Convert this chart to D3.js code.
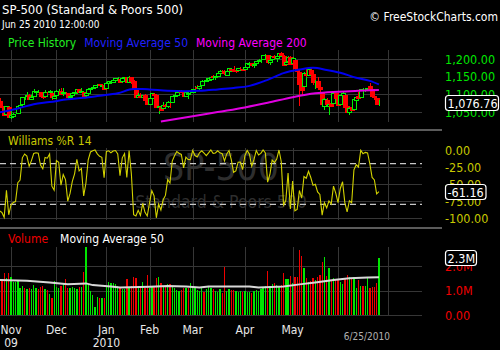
<!DOCTYPE html>
<html><head><meta charset="utf-8">
<script src="https://cdn.jsdelivr.net/npm/d3@7"></script>
<style>html,body{margin:0;padding:0;background:#000;overflow:hidden}svg{display:block;font-stretch:condensed}</style>
</head><body>
<svg id="c" width="500" height="350"></svg>
<script>
// ---------- DATA ----------
const monthDays = [
  ["2009-10", [26,27,28,29,30]],
  ["2009-11", [2,3,4,5,6,9,10,11,12,13,16,17,18,19,20,23,24,25,27,30]],
  ["2009-12", [1,2,3,4,7,8,9,10,11,14,15,16,17,18,21,22,23,24,28,29,30,31]],
  ["2010-01", [4,5,6,7,8,11,12,13,14,15,19,20,21,22,25,26,27,28,29]],
  ["2010-02", [1,2,3,4,5,8,9,10,11,12,16,17,18,19,22,23,24,25,26]],
  ["2010-03", [1,2,3,4,5,8,9,10,11,12,15,16,17,18,19,22,23,24,25,26,29,30,31]],
  ["2010-04", [1,5,6,7,8,9,12,13,14,15,16,19,20,21,22,23,26,27,28,29,30]],
  ["2010-05", [3,4,5,6,7,10,11,12,13,14,17,18,19,20,21,24,25,26,27,28]],
  ["2010-06", [1,2,3,4,7,8,9,10,11,14,15,16,17,18,21,22,23,24,25,28,29,30]],
  ["2010-07", [1]]
];

const open = [
 1080,1067,1061.5,1043,1065,
 1036,1040,1047,1047,1064,1072,1092,1094,1098,1088,1094,1108,1109,1106,1094,1095,1106,1106,1105,1091,
 1098,1109,1110,1103,1105,1103,1092,1098,1103,1107,1114,1108,1107,1097,1104,1115,1118,1121,1127,1128,1125,1127,
 1116.6,1133,1136,1136,1140,1145.9,1144,1137,1145,1148,1136,1147.7,1138.7,1115.5,1092,1095.8,1091.9,1096.9,1087.6,
 1073.9,1090,1100.7,1097.3,1064,1065.5,1060,1069.7,1067.1,1075.9,1079.1,1096,1099,1105.5,1110,1107.5,1095.9,1101.2,1103.1,
 1105.4,1117,1119.4,1119.1,1125.1,1138.4,1137.6,1140.2,1143.9,1151.7,1148.5,1150.8,1160,1166.1,1166.7,1155.3,1166.5,1172.7,1170,1167.6,1167.7,1173.8,1171.8,
 1171.2,1178.7,1186,1188.2,1181.8,1187.5,1194.9,1195.9,1198.7,1210.8,1210.2,1192.1,1199,1207.2,1202.5,1207.9,1217.1,1209.9,1184.6,1193.3,1206.8,
 1188.6,1197.5,1169.2,1164.4,1127,1122.3,1156.4,1155.4,1170,1157.2,1136.5,1138.8,1119.6,1107.3,1067.3,1084.8,1067.4,1075.5,1074.3,1102.6,
 1087.3,1073,1098.8,1098.4,1065.8,1050.8,1062.8,1058.8,1082.7,1095,1091.2,1114,1115.9,1116.2,1122.8,1113.9,1095.6,1090.9,1075.1
];
const high = [
 1091,1072.5,1063,1066.8,1066,
 1052,1046,1061,1066.7,1071.5,1093.2,1097,1105.4,1101.5,1097,1113.7,1110.3,1111,1106,1094,1112.4,1108,1111,1105,1097,
 1112,1115,1118,1119,1108,1103,1096,1108,1109,1114.5,1114,1117,1107,1103,1117,1119,1121,1126.5,1130.4,1130.4,1126.4,1127.5,
 1133.9,1137,1139,1142.5,1145.4,1149.7,1144,1148,1150.4,1148.3,1150.5,1147.7,1141.6,1115.5,1102.6,1103.7,1099.5,1100.2,1096.5,
 1089.4,1104.7,1102.7,1097.3,1067.6,1071.2,1079.3,1073.7,1080,1077.8,1095,1101,1108.2,1112.4,1112.3,1108.6,1107,1103.5,1107.2,
 1116.1,1123.5,1125.6,1123.7,1139.4,1141.1,1145.4,1148.3,1150.2,1153.4,1150.9,1160.3,1169.2,1167.8,1169.2,1167.8,1174.7,1173,1180.7,1173.9,1174.9,1177.8,1174.6,
 1181.4,1187.7,1191.8,1189.6,1188.6,1194.7,1199.2,1199,1210.7,1213.9,1210.2,1197.9,1208.6,1210.9,1210.3,1217.3,1219.8,1211.4,1195,1209.4,1207.9,
 1205.1,1197.5,1175.9,1167.6,1135.1,1163.8,1170.5,1172.9,1173.6,1157.2,1141.9,1148.7,1124.3,1107.3,1090.2,1089.9,1074.8,1090.8,1103.5,1102.6,
 1094.8,1098.6,1105.7,1098.4,1071.4,1063.2,1077.7,1087.9,1092.4,1105.9,1115.6,1118.7,1117.7,1121,1131.2,1118.5,1099.6,1090.9,1083.6
];
const low = [
 1065,1060,1042,1043,1033,
 1029,1033,1045,1047,1059,1072,1085,1094,1085,1085,1094,1102,1102.7,1089,1086,1095,1098,1104.8,1083,1086,
 1098,1105,1099,1096,1100,1088,1085,1098,1101,1107,1105,1107,1094,1093,1104,1114,1117,1121,1124,1126,1121,1114.8,
 1116.6,1130,1134,1131,1136,1142,1131,1133,1143,1131,1135,1129,1114.8,1090,1092,1089.9,1083,1078.5,1071.6,
 1073.9,1087.9,1093.6,1062.8,1044.5,1056.5,1060,1062.9,1060,1062.3,1079.1,1094.7,1097.5,1100.8,1105.4,1092.2,1095.9,1086,1097.6,
 1105.4,1116.5,1116.6,1111,1125.1,1136.8,1134.9,1140.1,1138.9,1146.9,1141.5,1148.3,1159.9,1161.2,1155.3,1152.9,1161.7,1166,1165,1161.5,1167.7,1168,1168.5,
 1170.7,1178.7,1182.8,1177.3,1175.1,1187.2,1194.7,1188.8,1198.7,1208.5,1186.8,1183.7,1199,1198.9,1190.2,1205.1,1211.1,1181.6,1182.8,1193.3,1186.3,
 1188.6,1168.1,1158.2,1065.8,1094.2,1122.3,1147.7,1155.4,1156.1,1126.1,1114.6,1117.2,1100.7,1071.6,1055.9,1073.6,1040.8,1065.6,1074.3,1084.8,
 1069.9,1072.9,1091.8,1060.5,1050.3,1042.2,1052.3,1058.8,1077.1,1089,1091.2,1107.1,1105.9,1113.9,1108.2,1094.2,1085.3,1071.6,1067.9
];
const close = [
 1067,1063.4,1042.6,1066.1,1036.2,
 1042.9,1045.4,1046.5,1066.6,1069.3,1093.1,1093.0,1098.5,1087.2,1093.5,1109.3,1110.3,1109.8,1094.9,1091.4,1106.2,1105.7,1110.6,1091.5,1095.6,
 1108.9,1109.2,1099.9,1106.0,1103.3,1091.9,1096.0,1102.4,1106.4,1114.1,1107.9,1109.2,1096.1,1102.5,1114.1,1118.0,1120.6,1126.5,1127.8,1126.2,1126.4,1115.1,
 1133.0,1136.5,1137.1,1141.7,1145.0,1147.0,1136.2,1145.7,1148.5,1136.0,1150.2,1138.0,1116.5,1091.8,1096.8,1092.2,1097.5,1084.5,1073.9,
 1089.2,1103.3,1097.3,1063.1,1066.2,1056.7,1070.5,1068.1,1078.5,1075.5,1094.9,1099.5,1106.8,1109.2,1108.0,1094.6,1105.2,1102.9,1104.5,
 1115.7,1118.3,1118.8,1123.0,1138.7,1138.5,1140.5,1145.6,1150.2,1150.0,1150.5,1159.5,1166.2,1165.8,1159.9,1165.8,1174.2,1167.7,1165.7,1166.6,1173.2,1173.3,1169.4,
 1178.1,1187.4,1189.4,1182.5,1186.4,1194.4,1196.5,1197.3,1210.7,1211.7,1192.1,1197.5,1207.2,1205.9,1208.7,1217.3,1212.1,1183.7,1191.4,1206.8,1186.7,
 1202.3,1173.6,1165.9,1128.2,1110.9,1159.7,1155.8,1171.7,1157.4,1135.7,1136.9,1120.8,1115.1,1071.6,1087.7,1073.7,1074.0,1068.0,1103.1,1089.4,
 1070.7,1098.4,1102.8,1064.9,1050.5,1062.0,1055.7,1086.8,1091.6,1089.6,1115.2,1114.6,1116.0,1117.5,1113.2,1095.3,1092.0,1073.7,1076.76
];
const williamsR = [
 -89.6,-91.8,-99.0,-59.4,-95.3,
 -80.8,-77.3,-75.8,-48.0,-44.3,-11.5,-5.9,-9.0,-23.8,-15.6,-5.2,-4.0,-4.6,-22.2,-27.6,-10.9,-12.0,-5.7,-53.2,-59.0,
 -15.6,-18.1,-51.7,-36.1,-43.6,-75.3,-63.9,-46.1,-35.0,-13.6,-30.8,-27.2,-67.4,-48.5,-14.4,-2.9,-1.1,0,-5.7,-9.3,-10.7,-40.9,
 -2.2,-1.1,-4.1,-1.6,-0.8,-5.9,-37.8,-11.5,-5.3,-40.4,-0.8,-35.0,-95.2,-97.0,-88.8,-96.2,-78.5,-91.7,-97.1,
 -77.7,-59.8,-67.4,-99.7,-79.5,-88.2,-73.2,-66.8,-43.5,-48.5,-16.3,-8.6,-2.2,-4.7,-6.5,-26.2,-10.6,-14.0,-14.1,
 -0.7,-8.2,-10.4,-4.1,-1.2,-4.7,-8.2,-4.3,0,-5.0,-4.3,-1.1,-4.2,-5.3,-16.0,-5.8,-0.8,-14.1,-32.8,-30.8,-17.9,-17.7,-28.8,
 -8.3,-0.8,-6.2,-23.9,-13.9,-0.7,-7.2,-5.0,0,-4.2,-47.2,-35.7,-14.8,-18.5,-13.4,0,-17.2,-80.8,-74.3,-34.0,-86.6,
 -45.8,-89.4,-87.5,-59.5,-70.7,-39.0,-41.6,-31.2,-40.5,-52.0,-50.5,-61.7,-65.3,-95.8,-77.5,-85.2,-75.0,-79.5,-53.1,-63.4,
 -77.5,-56.6,-46.7,-77.7,-91.0,-74.6,-77.6,-29.1,-21.7,-25.0,-0.5,-5.4,-3.5,-4.4,-20.2,-40.3,-44.0,-64.6,-61.16
];
const volumeM = [
 1.5,1.45,1.7,1.5,1.7,
 1.56,1.36,1.36,1.4,1.09,1.2,1.1,1.05,1.09,1.05,1.22,1.09,1.05,1.13,1.17,1.05,1.02,0.85,0.71,1.38,
 1.16,1.09,1.2,1.3,1.47,1.1,1.09,1.16,1.09,1.05,1.15,1.16,1.77,2.77,1.22,0.97,0.8,0.34,0.75,0.68,0.68,0.68,
 1.2,1.35,1.3,1.3,1.25,1.2,1.15,1.05,1.05,1.47,1.1,1.2,1.56,1.5,1.1,1.15,1.36,1.09,1.63,
 1.1,1.16,1.2,1.5,1.56,1.3,1.16,1.16,1.25,1.25,1.2,1.1,1.02,0.98,1.02,1.09,1.09,1.09,1.3,
 1.2,1.16,1.02,0.98,1.09,0.95,1.05,1.16,1.09,1.05,1.0,0.95,1.05,0.88,1.97,0.98,1.05,1.02,1.02,0.98,0.92,0.98,0.92,
 0.98,0.92,0.95,0.9,1.0,1.02,0.98,1.05,1.1,1.2,1.8,1.2,1.25,1.3,1.22,1.15,1.22,1.73,1.47,1.47,1.6,
 1.3,1.56,1.56,2.65,2.42,1.93,1.5,1.36,1.4,1.5,1.43,1.56,1.63,2.18,2.38,1.6,1.93,1.43,1.5,1.43,
 1.47,1.36,1.25,1.5,1.63,1.56,1.5,1.56,1.1,1.43,1.2,1.2,1.2,1.56,1.09,1.16,1.16,1.3,2.33
];
const ma50Dates = ["2009-10-26","2009-11-05","2009-11-16","2009-11-25","2009-12-08","2009-12-17","2009-12-29","2010-01-11","2010-01-21","2010-01-27","2010-02-01","2010-02-11","2010-02-24","2010-03-04","2010-03-16","2010-03-25","2010-04-06","2010-04-16","2010-04-27","2010-05-06","2010-05-14","2010-05-24","2010-06-02","2010-06-11","2010-06-21","2010-06-25"];
const ma50Values = [1049,1060,1072,1078,1086,1090,1096,1103,1115,1115,1114,1110,1109,1110,1114,1118,1124,1141,1160,1170,1175,1169,1161,1147,1138,1128];
const ma200Dates = ["2010-02-08","2010-03-01","2010-03-16","2010-04-01","2010-04-16","2010-05-03","2010-05-17","2010-06-01","2010-06-14","2010-06-25"];
const ma200Values = [1023,1038,1050,1063,1076,1092,1103,1107.5,1110,1112];
const volMaDates = ["2009-10-26","2009-11-11","2009-11-25","2009-12-08","2009-12-18","2009-12-23","2010-01-06","2010-01-12","2010-02-01","2010-02-11","2010-02-24","2010-03-04","2010-03-10","2010-04-06","2010-04-12","2010-04-27","2010-05-06","2010-05-17","2010-05-27","2010-06-08","2010-06-18","2010-06-25"];
const volMaValues = [1.43,1.40,1.33,1.26,1.29,1.22,1.16,1.12,1.15,1.18,1.16,1.12,1.16,1.16,1.12,1.16,1.25,1.33,1.43,1.50,1.53,1.54];

const priceTicks = [1050,1100,1150,1200];
const williamsTicks = [0,-25,-50,-75,-100];
const williamsLevels = [-20,-80];
const volumeTicks = [0,1,2];
const volumeTickLabels = ["0.00","1.0M","2.0M"];
const monthTickDates = ["2009-11-02","2009-12-01","2010-01-04","2010-02-01","2010-03-01","2010-04-01","2010-05-03","2010-06-01","2010-07-01"];
const monthLabelDates = ["2009-11-02","2009-12-01","2010-01-04","2010-02-01","2010-03-01","2010-04-01","2010-05-03"];
const monthLabels = ["Nov","Dec","Jan","Feb","Mar","Apr","May"];
const yearLabelDates = ["2009-11-02","2010-01-04"];
const yearLabels = ["09","2010"];
const lastPrice = 1076.76, lastWilliams = -61.16, lastVolume = 2.33;

// ---------- LAYOUT ----------
const FONT = "'DejaVu Sans Condensed','DejaVu Sans',sans-serif";
const svg = d3.select("#c");
const PR = 422, AX = 445;
const P = {price:[50,122], will:[148,220], vol:[247,315]};
const fmt2 = d => d.toFixed(2);
const fmtPrice = d3.formatLocale({decimal: ".", thousands: ",", grouping: [3], currency: ["", ""], minus: "-"}).format(",.2f");

const dates = monthDays.flatMap(([m, ds]) => ds.map(d => m + "-" + String(d).padStart(2, "0")));
const dataDates = dates.slice(0, close.length);
const x = d3.scalePoint().domain(dates).range([-0.36, 388]);
const yP = d3.scaleLinear().domain([1050, 1200]).range([112, 59]);
const yW = d3.scaleLinear().domain([-100, 0]).range([218, 150]);
const yV = d3.scaleLinear().domain([0, 1]).range([315, 290.5]);

svg.append("rect").attr("width", 500).attr("height", 350).attr("fill", "#000");

// watermark
const wm = svg.append("g").attr("fill", "#2e2e2e").attr("font-family", FONT).attr("text-anchor", "middle");
wm.append("text").attr("x", 221).attr("y", 180).attr("font-size", 37).text("SP-500");
wm.append("text").attr("x", 221).attr("y", 208).attr("font-size", 17.5).text("Standard & Poors 500");

// grids
const grid = svg.append("g").attr("stroke", "#363636").attr("stroke-width", 1).attr("shape-rendering", "crispEdges");
Object.values(P).forEach(([t, b]) => {
  grid.append("g").selectAll("line").data(monthTickDates).join("line")
    .attr("x1", d => Math.round(x(d)) + 0.5).attr("x2", d => Math.round(x(d)) + 0.5)
    .attr("y1", t).attr("y2", b);
});
function hgrid(vals, scale) {
  grid.append("g").selectAll("line").data(vals).join("line")
    .attr("x1", 0).attr("x2", PR)
    .attr("y1", d => Math.round(scale(d)) + 0.5).attr("y2", d => Math.round(scale(d)) + 0.5);
}
hgrid(priceTicks, yP);
hgrid(williamsTicks, yW);
hgrid(volumeTicks, yV);

// separators
svg.append("g").attr("stroke", "#7a7a7a").attr("stroke-width", 1.5)
  .selectAll("line").data([130, 228]).join("line")
  .attr("x1", 0).attr("x2", 442).attr("y1", d => d).attr("y2", d => d);

// ---------- PRICE ----------
const candles = d3.range(close.length).map(i => ({d: dataDates[i], o: open[i], h: high[i], l: low[i], c: close[i], up: close[i] >= open[i]}));
const GREEN = "#00f000", RED = "#ff0000";
const gc = svg.append("g").attr("shape-rendering", "crispEdges");
candles.forEach(c => {
  const cx = Math.round(x(c.d));
  const col = c.up ? GREEN : RED;
  const g = gc.append("g");
  g.append("line").attr("x1", cx + 0.5).attr("x2", cx + 0.5)
    .attr("y1", yP(c.h)).attr("y2", yP(c.l)).attr("stroke", col);
  const top = Math.round(yP(Math.max(c.o, c.c))), bot = Math.round(yP(Math.min(c.o, c.c)));
  g.append("rect").attr("x", cx - 1.5).attr("y", top + 0.5)
    .attr("width", 4).attr("height", Math.max(0, bot - top))
    .attr("fill", c.up ? "#000" : RED).attr("stroke", col);
});

const maLine = d3.line().x(d => x(d[0])).y(d => yP(d[1])).curve(d3.curveMonotoneX);
svg.append("path").attr("d", maLine(d3.zip(ma200Dates, ma200Values)))
  .attr("fill", "none").attr("stroke", "#e000e0").attr("stroke-width", 2);
svg.append("path").attr("d", maLine(d3.zip(ma50Dates, ma50Values)))
  .attr("fill", "none").attr("stroke", "#0000f0").attr("stroke-width", 2);

// ---------- WILLIAMS ----------
svg.append("g").attr("stroke", "#c8c8c8").attr("stroke-width", 1.3).attr("stroke-dasharray", "6,4")
  .selectAll("line").data(williamsLevels).join("line")
  .attr("x1", 0).attr("x2", PR).attr("y1", d => yW(d)).attr("y2", d => yW(d));
svg.append("path")
  .attr("d", d3.line().x((d, i) => x(dataDates[i])).y(d => yW(d))(williamsR))
  .attr("fill", "none").attr("stroke", "#d2d200").attr("stroke-width", 1.1);

// ---------- VOLUME ----------
svg.append("g").attr("shape-rendering", "crispEdges").selectAll("rect").data(volumeM).join("rect")
  .attr("x", (d, i) => x(dataDates[i]) - 0.6).attr("width", 1.3)
  .attr("y", d => yV(d)).attr("height", d => yV(0) - yV(d))
  .attr("fill", (d, i) => (i === 0 ? close[i] >= open[i] : close[i] >= close[i - 1]) ? "#00e600" : "#f00000");
svg.append("path")
  .attr("d", d3.line().x(d => x(d[0])).y(d => yV(d[1]))(d3.zip(volMaDates, volMaValues)))
  .attr("fill", "none").attr("stroke", "#d8d8d8").attr("stroke-width", 2);

// ---------- AXES (right) ----------
function rightAxis(scale, ticks, fmt, color) {
  const g = svg.append("g").attr("transform", `translate(${AX},0)`)
    .call(d3.axisRight(scale).tickValues(ticks).tickFormat(fmt).tickSize(0).tickPadding(0));
  g.select(".domain").remove();
  g.selectAll("text").attr("fill", color).attr("font-family", FONT).attr("font-size", 12.5);
}
rightAxis(yP, priceTicks, fmtPrice, "#00e600");
rightAxis(yW, williamsTicks, fmt2, "#c8c800");
rightAxis(yV, volumeTicks, (d, i) => volumeTickLabels[i], "#f00000");

// badges
function badge(y, label, w) {
  const g = svg.append("g");
  g.append("rect").attr("x", AX + 0.5).attr("y", Math.round(y) - 7.5).attr("width", w).attr("height", 15)
    .attr("rx", 3).attr("fill", "#000").attr("stroke", "#fff").attr("stroke-width", 1.2);
  g.append("text").attr("x", AX + 2.5).attr("y", Math.round(y) + 4.6).attr("fill", "#fff")
    .attr("font-family", FONT).attr("font-size", 12.5).text(label);
}
badge(yP(lastPrice), fmtPrice(lastPrice), 53);
badge(yW(lastWilliams), fmt2(lastWilliams), 40.5);
badge(yV(lastVolume), lastVolume.toFixed(1) + "M", 31);

// ---------- X LABELS ----------
const xl = svg.append("g").attr("font-family", FONT).attr("font-size", 12).attr("text-anchor", "middle").attr("fill", "#e8e8e8");
xl.selectAll("text.m").data(monthLabelDates).join("text").attr("class", "m")
  .attr("x", d => x(d)).attr("y", 333.5).text((d, i) => monthLabels[i]);
xl.selectAll("text.yr").data(yearLabelDates).join("text").attr("class", "yr")
  .attr("x", d => x(d)).attr("y", 346.7).text((d, i) => yearLabels[i]);
svg.append("text").attr("x", x("2010-06-25") - 12).attr("y", 340).attr("text-anchor", "middle")
  .attr("font-family", FONT).attr("font-size", 10).attr("fill", "#b0b0b0").text("6/25/2010");

// ---------- TITLES / LEGENDS ----------
const T = (xx, yy, txt, col, size, anchor) => svg.append("text").attr("x", xx).attr("y", yy)
  .attr("fill", col).attr("font-family", FONT).attr("font-size", size).attr("text-anchor", anchor || "start").text(txt);
T(2, 13.5, "SP-500 (Standard & Poors 500)", "#fff", 13);
T(2, 28.3, "Jun 25 2010 12:00:00", "#fff", 10);
T(498, 20.7, "© FreeStockCharts.com", "#fff", 12, "end");
const leg = [["Price History", "#22ee22"], ["Moving Average 50", "#2020ff"], ["Moving Average 200", "#ff00ff"]];
let lx = 8;
leg.forEach(([t, c]) => { const n = T(lx, 46.7, t, c, 12); lx += n.node().getComputedTextLength() + 8; });
T(8, 145, "Williams %R 14", "#c8c800", 12);
const vl = T(8, 243.3, "Volume", "#f00000", 12);
T(8 + vl.node().getComputedTextLength() + 12, 243.3, "Moving Average 50", "#ffffff", 12);
</script>
</body></html>
